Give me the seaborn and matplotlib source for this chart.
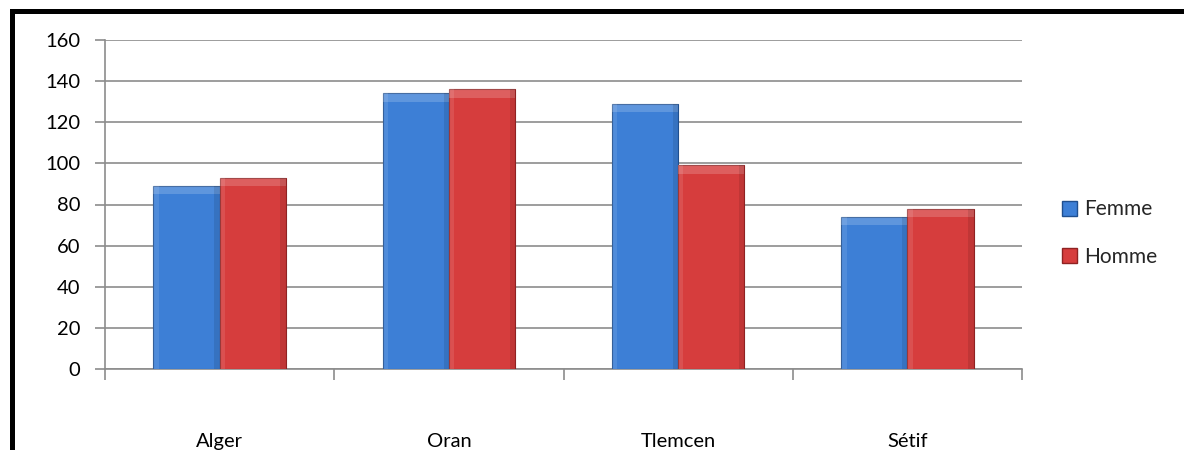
import matplotlib
matplotlib.use("Agg")
import matplotlib.pyplot as plt
import matplotlib.patches as mpatches
import seaborn as sns
import pandas as pd

villes = ["Alger", "Oran", "Tlemcen", "Sétif"]
femme = [89, 134, 129, 74]
homme = [93, 136, 99, 78]
series = ["Femme", "Homme"]
couleurs = ["#3d7fd6", "#d63d3d"]
bords = ["#1f4f8f", "#8f2222"]

df = pd.DataFrame({
    "Ville": villes * 2,
    "Sexe": [series[0]] * len(villes) + [series[1]] * len(villes),
    "Valeur": femme + homme,
})

sns.set_theme(style="white")
plt.rcParams["font.family"] = ["Lato", "DejaVu Sans"]

fig = plt.figure(figsize=(11.84, 4.5), dpi=100)
ax = fig.add_axes([105 / 1184, 1 - 369 / 450, (1022 - 105) / 1184, (369 - 40) / 450])

sns.barplot(data=df, x="Ville", y="Valeur", hue="Sexe", palette=couleurs,
            width=0.577, ax=ax, legend=False, saturation=1, zorder=3)

for cont, bc in zip(ax.containers, bords):
    for bar in cont:
        bar.set_edgecolor(bc)
        bar.set_linewidth(0.8)
        # bevel shading: light top and left edges, darker right edge
        x0, w, h = bar.get_x(), bar.get_width(), bar.get_height()
        ax.add_patch(mpatches.Rectangle((x0, h - 4), w, 4, facecolor="white",
                                        alpha=0.18, lw=0, zorder=4))
        ax.add_patch(mpatches.Rectangle((x0, 0), w * 0.08, h, facecolor="white",
                                        alpha=0.10, lw=0, zorder=4))
        ax.add_patch(mpatches.Rectangle((x0 + w * 0.92, 0), w * 0.08, h,
                                        facecolor="black", alpha=0.10, lw=0, zorder=4))

ax.set_ylim(0, 160)
ax.set_xlim(-0.5, len(villes) - 0.5)
ax.set_yticks(range(0, 161, 20))
ax.yaxis.grid(True, color="#8c8c8c", linewidth=1.2, zorder=0)
ax.set_axisbelow(True)
ax.set_xlabel("")
ax.set_ylabel("")

for s in ["top", "right"]:
    ax.spines[s].set_visible(False)
for s in ["left", "bottom"]:
    ax.spines[s].set_color("#8c8c8c")
    ax.spines[s].set_linewidth(1.2)

ax.tick_params(axis="y", which="major", left=True, length=7, width=1.2,
               color="#8c8c8c", labelsize=14.5, pad=11, labelcolor="black")
ax.set_xticks(range(len(villes)))
ax.set_xticklabels(villes)
ax.tick_params(axis="x", which="major", bottom=False, length=0, labelsize=14.5,
               pad=46, labelcolor="black")
ax.set_xticks([i - 0.5 for i in range(len(villes) + 1)], minor=True)
ax.tick_params(axis="x", which="minor", bottom=True, length=8, width=1.2,
               color="#8c8c8c")

handles = [mpatches.Patch(facecolor=c, edgecolor=b, label=s)
           for c, b, s in zip(couleurs, bords, series)]
fig.legend(handles=handles, loc="center left", bbox_to_anchor=(1043 / 1184, 1 - 233 / 450),
           frameon=False, fontsize=15, handlelength=0.75, handleheight=0.75,
           handletextpad=0.3, labelspacing=1.3)

# black frame around the chart
fig.patches.append(mpatches.Rectangle((11.5 / 1184, -0.1), 1.2, 1 - 11 / 450 + 0.1,
                                      transform=fig.transFigure, fill=False,
                                      edgecolor="black", linewidth=3.6))

fig.savefig("out.png", dpi=100)
